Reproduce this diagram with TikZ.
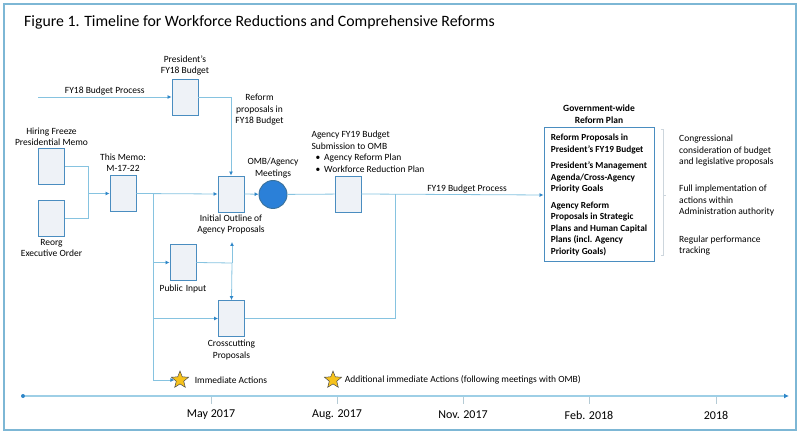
\documentclass[tikz,border=0pt]{standalone}
\usepackage{fontspec}
\setmainfont{Carlito}
\usepackage{xcolor}
\definecolor{wfframe}{HTML}{7DB7D5}
\definecolor{wfline}{HTML}{86C3E0}
\definecolor{wftip}{HTML}{2E86C8}
\definecolor{wfedge}{HTML}{4A8DC0}
\definecolor{wffill}{HTML}{EEF2F7}
\definecolor{wfdot}{HTML}{2B80D8}
\definecolor{wfstar}{HTML}{F6C21C}
\definecolor{wfbracket}{HTML}{CDD6DD}
\usepackage{tikz}
\usetikzlibrary{arrows.meta,positioning,shapes.geometric,calc}
\newcommand\wfsmall{\fontsize{9.5}{11.5}\selectfont}
\tikzset{
  wfbox/.style={draw=wfedge,fill=wffill,line width=0.9pt,minimum width=26pt,minimum height=36pt,inner sep=0pt},
  wftext/.style={font=\wfsmall,align=center,inner sep=1pt},
  wfpath/.style={draw=wfline,line width=0.8pt},
  wfflow/.style={wfpath,-{Latex[length=4pt,width=4pt,color=wftip]}},
  wfstarnode/.style={star,star points=5,star point ratio=2.3,minimum size=18pt,inner sep=0pt,fill=wfstar,draw=black!70,line width=0.5pt},
  wftime/.style={draw=wfline!80,line width=1.6pt,-{Latex[length=5pt,width=5pt,color=wftip]}},
}
\begin{document}
\begin{tikzpicture}[x=1pt,y=-1pt,node distance=2pt]
\useasboundingbox (0,0) rectangle (800,435);
\draw[wfframe,line width=1.4pt] (4,4) rectangle (796,430);
\node[anchor=base west,inner sep=0pt,font=\fontsize{15.8}{18}\selectfont] (title) at (24,27) {Figure 1. Timeline for Workforce Reductions and Comprehensive Reforms};

% boxes
\node[wfbox] (pres) at (185,97) {};
\node[wfbox] (hire) at (51.5,166.5) {};
\node[wfbox] (reorg) at (51.5,218.5) {};
\node[wfbox] (memo) at (123,193.5) {};
\node[wfbox] (outline) at (231,194) {};
\node[circle,draw=wfedge!80!black,fill=wfdot,line width=0.9pt,minimum size=28pt,inner sep=0pt] (omb) at (273,194.5) {};
\node[wfbox] (subm) at (348,194) {};
\node[wfbox] (public) at (183,262.5) {};
\node[wfbox] (cross) at (231.5,318.5) {};
\node[draw=wfedge,fill=white,line width=1pt,minimum width=110pt,minimum height=134pt,inner xsep=5pt,align=left,font=\fontsize{9.3}{11.5}\selectfont\bfseries] (plan) at (599,195)
  {Reform Proposals in\\President’s FY19 Budget\\[5pt]President’s Management\\Agenda/Cross-Agency\\Priority Goals\\[5pt]Agency Reform\\Proposals in Strategic\\Plans and Human Capital\\Plans (incl. Agency\\Priority Goals)};

% labels
\node[wftext,above=of pres] {President’s\\FY18 Budget};
\node[wftext,above=1pt of hire] {Hiring Freeze\\Presidential Memo};
\node[wftext,below=1pt of reorg] {Reorg\\Executive Order};
\node[wftext,above=of memo] {This Memo:\\M-17-22};
\node[wftext,below=1pt of outline] {Initial Outline of\\Agency Proposals};
\node[wftext,above=1pt of omb] {OMB/Agency\\Meetings};
\node[wftext,align=left,above=of subm,xshift=20pt] {Agency FY19 Budget\\Submission to OMB\\\hspace{4pt}\textbullet\hspace{4pt}Agency Reform Plan\\\hspace{4pt}\textbullet\hspace{4pt}Workforce Reduction Plan};
\node[wftext,below=3pt of public] {Public\hspace{3pt}Input};
\node[wftext,below=of cross] {Crosscutting\\Proposals};
\node[wftext,font=\wfsmall\bfseries,above=3pt of plan] {Government-wide\\Reform Plan};

% outcomes
\node[wftext,align=left,anchor=west] (cong) at (678,151) {Congressional\\consideration of budget\\and legislative proposals};
\node[wftext,align=left,anchor=west] (impl) at (678,200.5) {Full implementation of\\actions within\\Administration authority};
\node[wftext,align=left,anchor=west] (track) at (678,245.5) {Regular performance\\tracking};
\draw[wfbracket,line width=0.8pt] ([xshift=6pt,yshift=-2pt]plan.north east) -- ++(3,0) |- ([xshift=6pt,yshift=7pt]plan.south east);
\draw[wfbracket,line width=0.8pt] ([xshift=9pt]plan.east) -- ++(2,0);

% connectors
\coordinate (fy18in) at (38,97);
\draw[wfflow] (fy18in) -- node[wftext,above,pos=0.5]{FY18 Budget Process} (pres);
\draw[wfflow] (pres.east) -| node[wftext,right=3pt,pos=0.58]{Reform\\proposals in\\FY18 Budget} (outline.north);
\coordinate (join) at (88,193.5);
\draw[wfpath] (hire.east) -| (join);
\draw[wfpath] (reorg.east) -| (join);
\draw[wfflow] (join) -- (memo.west);
\draw[wfflow] (memo.east) -- (outline.west);
\draw[wfflow] (outline.east) -- (omb);
\draw[wfpath] (omb) -- (subm);
\draw[wfflow] (subm.east) -- node[wftext,above,pos=0.58]{FY19 Budget Process} (plan.west);

\node[wfstarnode] (star1) at (180,380) {};
\node[wfstarnode] (star2) at (333,380) {};
\node[wftext,right=8pt of star1] {Immediate Actions};
\node[wftext,right=5pt of star2] {Additional immediate Actions (following meetings with OMB)};

\coordinate (split) at (153,193.5);
\draw[wfflow] (split) |- (public.west);
\draw[wfflow] (split) |- (cross.west);
\draw[wfflow] (split) |- (star1);
\coordinate (pubjoin) at (232,263);
\coordinate (pubup) at (232,242);
\draw[wfpath] (public.east) -- (pubjoin);
\draw[wfflow] (pubjoin) -- (pubup);
\draw[wfflow] (pubjoin) -- (cross.north);
\coordinate (fy19join) at (395,194);
\draw[wfpath] (cross.east) -| (fy19join);

% timeline
\node[circle,fill=wftip,inner sep=0pt,minimum size=4pt] (tstart) at (23,396) {};
\coordinate (tend) at (789,396);
\draw[wftime] (tstart) -- (tend);
\foreach \x/\m in {211/May 2017,337/Aug. 2017,463/Nov. 2017,589/Feb. 2018,716/2018}{
  \draw[wfline!60!gray!60,line width=0.6pt] (\x,397) -- (\x,404);
  \node[font=\fontsize{12}{14}\selectfont,inner sep=0pt] at (\x,415) {\m};
}
\end{tikzpicture}
\end{document}
